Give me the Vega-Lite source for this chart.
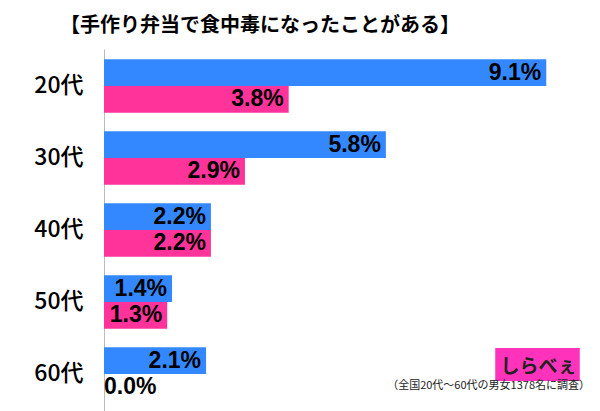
{
  "$schema": "https://vega.github.io/schema/vega-lite/v6.json",
  "autosize": "none",
  "width": 486,
  "height": 362,
  "padding": {"top": 49, "left": 104, "right": 10, "bottom": 0},
  "background": "white",
  "title": {
    "text": "【手作り弁当で食中毒になったことがある】",
    "anchor": "middle",
    "frame": "group",
    "dx": -87,
    "offset": 13,
    "fontSize": 20,
    "fontWeight": "bold",
    "font": "Noto Sans CJK JP",
    "color": "black"
  },
  "config": {"view": {"stroke": null}},
  "datasets": {
    "main": [
      {"cat": "20代", "gender": "男性", "value": 9.1},
      {"cat": "20代", "gender": "女性", "value": 3.8},
      {"cat": "30代", "gender": "男性", "value": 5.8},
      {"cat": "30代", "gender": "女性", "value": 2.9},
      {"cat": "40代", "gender": "男性", "value": 2.2},
      {"cat": "40代", "gender": "女性", "value": 2.2},
      {"cat": "50代", "gender": "男性", "value": 1.4},
      {"cat": "50代", "gender": "女性", "value": 1.3},
      {"cat": "60代", "gender": "男性", "value": 2.1},
      {"cat": "60代", "gender": "女性", "value": 0.0}
    ],
    "logo": [{"cat": "60代", "value": 8.05, "value2": 9.79}],
    "logotext": [{"cat": "60代", "value": 9.72, "label": "しらべぇ"}],
    "note": [{"cat": "60代", "value": 10, "label": "（全国20代～60代の男女1378名に調査）"}]
  },
  "encoding": {
    "y": {
      "field": "cat",
      "type": "nominal",
      "sort": ["20代", "30代", "40代", "50代", "60代"],
      "scale": {"paddingInner": 0.257, "paddingOuter": 0.142},
      "axis": {
        "title": null,
        "ticks": false,
        "domainColor": "#bbbbbb",
        "labelPadding": 21,
        "labelFontSize": 23,
        "labelFont": "Noto Sans CJK JP",
        "labelFontWeight": 500,
        "labelColor": "black",
        "grid": false
      }
    },
    "x": {
      "field": "value",
      "type": "quantitative",
      "scale": {"domain": [0, 10], "nice": false},
      "axis": null
    }
  },
  "layer": [
    {
      "data": {"name": "main"},
      "mark": {"type": "bar"},
      "encoding": {
        "yOffset": {"field": "gender", "type": "nominal", "sort": ["男性", "女性"], "scale": {"paddingInner": 0, "paddingOuter": 0}},
        "color": {"field": "gender", "type": "nominal", "scale": {"domain": ["男性", "女性"], "range": ["#3388ff", "#ff3399"]}, "legend": null}
      }
    },
    {
      "data": {"name": "main"},
      "transform": [
        {"filter": "datum.value > 0"},
        {"calculate": "format(datum.value, '.1f') + '%'", "as": "label"}
      ],
      "mark": {"type": "text", "align": "right", "baseline": "middle", "dx": -5, "fontSize": 23, "fontWeight": "bold", "font": "Liberation Sans", "color": "black"},
      "encoding": {
        "yOffset": {"field": "gender", "type": "nominal", "sort": ["男性", "女性"]},
        "text": {"field": "label"}
      }
    },
    {
      "data": {"name": "main"},
      "transform": [
        {"filter": "datum.value == 0"},
        {"calculate": "format(datum.value, '.1f') + '%'", "as": "label"}
      ],
      "mark": {"type": "text", "align": "left", "baseline": "middle", "dx": 0, "fontSize": 23, "fontWeight": "bold", "font": "Liberation Sans", "color": "black"},
      "encoding": {
        "yOffset": {"field": "gender", "type": "nominal", "sort": ["男性", "女性"]},
        "text": {"field": "label"}
      }
    },
    {
      "data": {"name": "logo"},
      "mark": {"type": "bar", "height": 33, "yOffset": -9.5, "color": "#ff33bb"},
      "encoding": {
        "x2": {"field": "value2"}
      }
    },
    {
      "data": {"name": "logotext"},
      "mark": {"type": "text", "align": "right", "baseline": "middle", "dy": -7, "fontSize": 19, "fontWeight": "bold", "font": "Noto Sans CJK JP", "color": "#222222"},
      "encoding": {"text": {"field": "label"}}
    },
    {
      "data": {"name": "note"},
      "mark": {"type": "text", "align": "right", "baseline": "middle", "dy": 12, "fontSize": 11, "font": "Noto Sans CJK JP", "color": "#222222"},
      "encoding": {"text": {"field": "label"}}
    }
  ]
}
